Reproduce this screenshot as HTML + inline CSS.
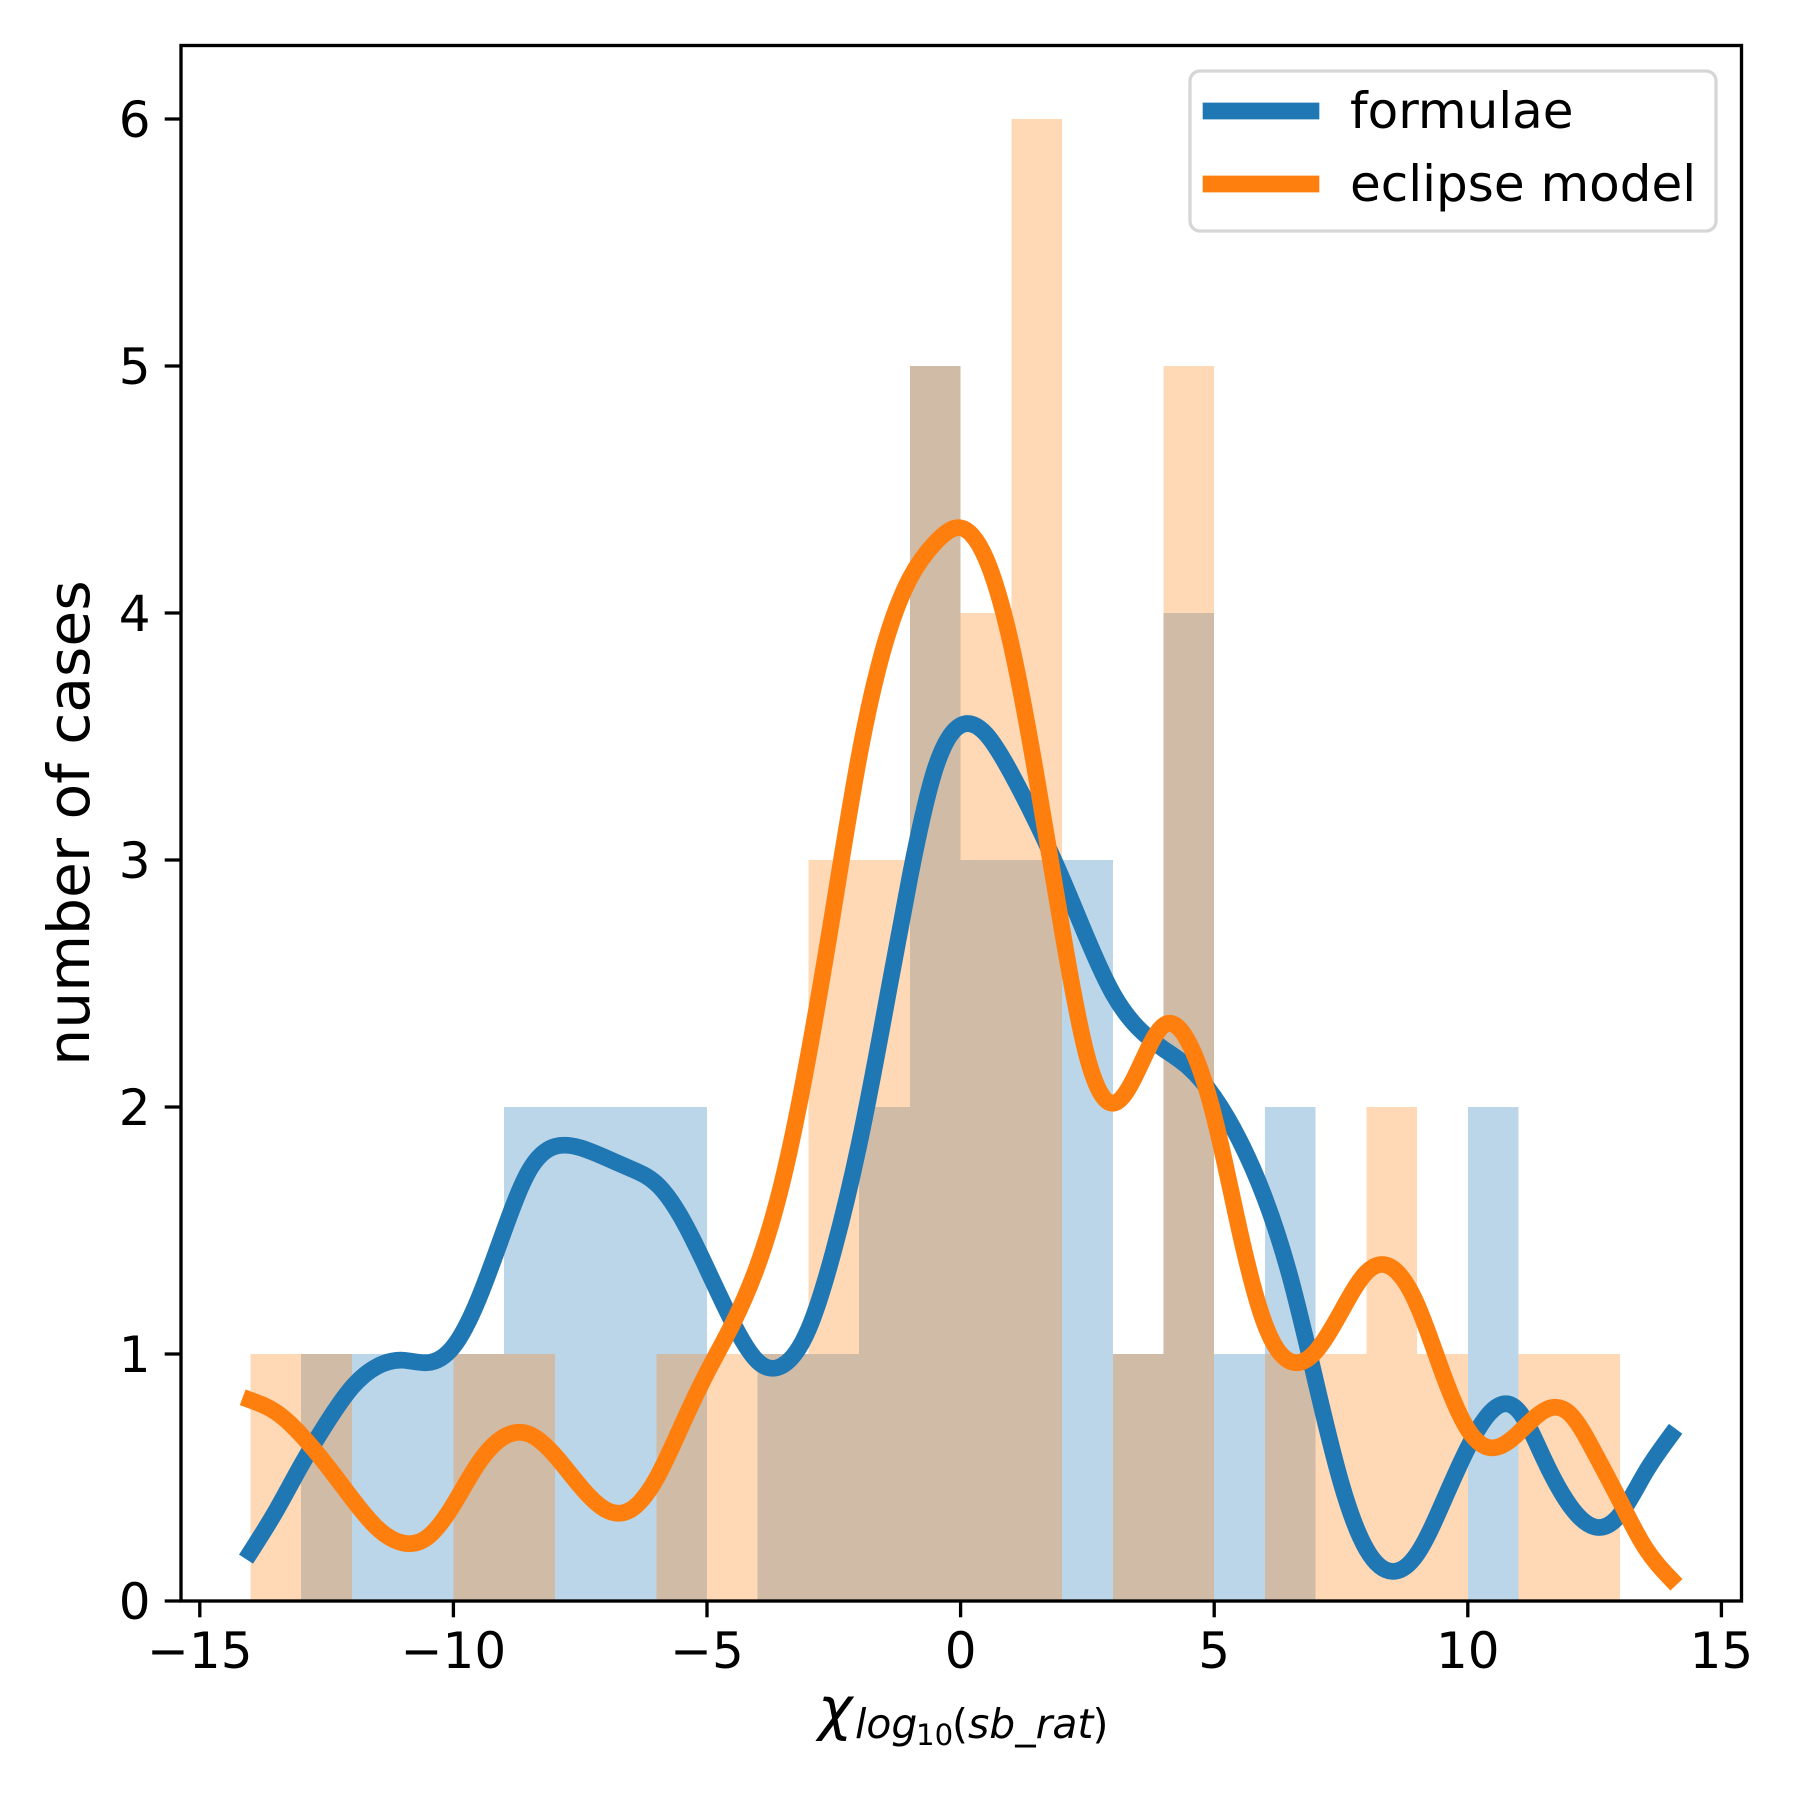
<!DOCTYPE html>
<html>
<head>
<meta charset="utf-8">
<title>Histogram and KDE</title>
<style>
html,body{margin:0;padding:0;background:#fff;}
svg{display:block;}
text{font-family:"DejaVu Sans","Liberation Sans",sans-serif;fill:#000;}
</style>
</head>
<body>
<svg id="chart" xmlns="http://www.w3.org/2000/svg" width="1800" height="1800" viewBox="0 0 1800 1800">
  <rect x="0" y="0" width="1800" height="1800" fill="#fff"/>
  <g id="bars"></g>
  <g id="lines"></g>
  <g id="ticks"></g>
  <rect x="181" y="45.5" width="1560.5" height="1555.5" fill="none" stroke="#000" stroke-width="3.33"/>
  <text transform="translate(89,823) rotate(-90)" text-anchor="middle" font-size="58.33">number of cases</text>
  <text>
    <tspan x="818" y="1729" font-size="58.33" font-style="italic">χ</tspan>
    <tspan x="855" y="1738" font-size="40.83" font-style="italic">log</tspan>
    <tspan x="916" y="1745" font-size="29.2">10</tspan>
    <tspan x="952" y="1738" font-size="40.83">(</tspan>
    <tspan x="968" y="1738" font-size="40.83" font-style="italic">sb_rat</tspan>
    <tspan x="1092.5" y="1738" font-size="40.83">)</tspan>
  </text>
  <g>
    <rect x="1190" y="71" width="526" height="160" rx="10" ry="10" fill="#fff" fill-opacity="0.8" stroke="#d6d6d6" stroke-width="3.33"/>
    <line x1="1211" y1="111" x2="1311" y2="111" stroke="#1f77b4" stroke-width="16.67" stroke-linecap="square"/>
    <text x="1350" y="128" font-size="50">formulae</text>
    <line x1="1211" y1="184" x2="1311" y2="184" stroke="#ff7f0e" stroke-width="16.67" stroke-linecap="square"/>
    <text x="1350" y="201" font-size="50">eclipse model</text>
  </g>
</svg>
<script>
const binStarts = [-14,-13,-12,-11,-10,-9,-8,-7,-6,-5,-4,-3,-2,-1,0,1,2,3,4,5,6,7,8,9,10,11,12];
const formulaeCounts = [0,1,1,1,1,2,2,2,2,0,1,1,2,5,3,3,3,1,4,1,2,0,0,0,2,0,0];
const eclipseCounts = [1,1,0,0,1,1,0,0,1,1,1,3,3,5,4,6,0,1,5,0,1,1,2,1,0,1,1];
const curveX = [-14,-13.5,-13,-12.5,-12,-11.5,-11,-10.5,-10,-9.5,-9,-8.5,-8,-7.5,-7,-6.5,-6,-5.5,-5,-4.5,-4,-3.5,-3,-2.5,-2,-1.5,-1,-0.5,0,0.5,1,1.5,2,2.5,3,3.5,4,4.5,5,5.5,6,6.5,7,7.5,8,8.5,9,9.5,10,10.5,11,11.5,12,12.5,13,13.5,14];
const formulaeY = [0.198,0.364,0.55,0.72,0.865,0.95,0.975,0.965,1.03,1.225,1.5,1.745,1.84,1.835,1.795,1.75,1.69,1.55,1.345,1.13,0.97,0.955,1.1,1.42,1.85,2.38,2.93,3.37,3.545,3.51,3.35,3.15,2.925,2.68,2.46,2.32,2.235,2.16,2.04,1.865,1.63,1.31,0.89,0.48,0.21,0.12,0.19,0.395,0.62,0.775,0.77,0.575,0.39,0.3,0.35,0.52,0.67];
const eclipseY = [0.813,0.765,0.672,0.55,0.415,0.295,0.235,0.26,0.39,0.56,0.665,0.675,0.59,0.465,0.37,0.37,0.495,0.71,0.925,1.12,1.36,1.71,2.21,2.81,3.42,3.87,4.14,4.285,4.345,4.22,3.87,3.33,2.72,2.2,2.015,2.15,2.33,2.26,1.96,1.5,1.12,0.97,1.01,1.17,1.33,1.35,1.2,0.925,0.695,0.62,0.68,0.77,0.76,0.6,0.405,0.215,0.09];
const xTickValues = [-15,-10,-5,0,5,10,15];
const xTickLabels = ["\u221215","\u221210","\u22125","0","5","10","15"];
const yTickValues = [0,1,2,3,4,5,6];
const yTickLabels = ["0","1","2","3","4","5","6"];

const NS = 'http://www.w3.org/2000/svg';
function sx(v){ return 960.6 + v * 50.72; }
function sy(v){ return 1601 - v * 247; }
function mk(tag, attrs, parent){
  const el = document.createElementNS(NS, tag);
  for (const k in attrs) el.setAttribute(k, attrs[k]);
  parent.appendChild(el);
  return el;
}
const barsG = document.getElementById('bars');
function drawBars(counts, color, label){
  counts.forEach(function(c, i){
    if (c <= 0) return;
    const r = mk('rect', {x: sx(binStarts[i]), y: sy(c), width: sx(binStarts[i] + 1) - sx(binStarts[i]), height: sy(0) - sy(c), fill: color, 'fill-opacity': 0.3, 'shape-rendering': 'crispEdges'}, barsG);
    
    
  });
}
drawBars(formulaeCounts, '#1f77b4', 'formulae');
drawBars(eclipseCounts, '#ff7f0e', 'eclipse-model');

/* natural cubic spline through the read values, emitted as Bezier segments */
function curvePath(xs, ys){
  const n = xs.length;
  const M = new Array(n).fill(0);
  const c = new Array(n).fill(0);
  const d = new Array(n).fill(0);
  for (let i = 1; i < n - 1; i++){
    const h0 = xs[i] - xs[i - 1], h1 = xs[i + 1] - xs[i];
    const b = 2 * (h0 + h1) - h0 * c[i - 1];
    c[i] = h1 / b;
    d[i] = (6 * ((ys[i + 1] - ys[i]) / h1 - (ys[i] - ys[i - 1]) / h0) - h0 * d[i - 1]) / b;
  }
  for (let i = n - 2; i > 0; i--) M[i] = d[i] - c[i] * M[i + 1];
  let p = 'M' + sx(xs[0]).toFixed(2) + ' ' + sy(ys[0]).toFixed(2);
  for (let i = 0; i < n - 1; i++){
    const h = xs[i + 1] - xs[i];
    const s = (ys[i + 1] - ys[i]) / h;
    const m0 = s - h * (2 * M[i] + M[i + 1]) / 6;
    const m1 = s + h * (M[i] + 2 * M[i + 1]) / 6;
    p += 'C' + sx(xs[i] + h / 3).toFixed(2) + ' ' + sy(ys[i] + m0 * h / 3).toFixed(2) + ' ' +
         sx(xs[i + 1] - h / 3).toFixed(2) + ' ' + sy(ys[i + 1] - m1 * h / 3).toFixed(2) + ' ' +
         sx(xs[i + 1]).toFixed(2) + ' ' + sy(ys[i + 1]).toFixed(2);
  }
  return p;
}
const linesG = document.getElementById('lines');
const lineFormulae = mk('path', {d: curvePath(curveX, formulaeY), fill: 'none', stroke: '#1f77b4', 'stroke-width': 16.67, 'stroke-linecap': 'square', 'stroke-linejoin': 'round'}, linesG);


const lineEclipse = mk('path', {d: curvePath(curveX, eclipseY), fill: 'none', stroke: '#ff7f0e', 'stroke-width': 16.67, 'stroke-linecap': 'square', 'stroke-linejoin': 'round'}, linesG);



const ticksG = document.getElementById('ticks');
xTickValues.forEach(function(v, i){
  const t = mk('line', {x1: sx(v), x2: sx(v), y1: 1601, y2: 1617.3, stroke: '#000', 'stroke-width': 3.33}, ticksG);
  
  
  const l = mk('text', {x: sx(v), y: 1668, 'text-anchor': 'middle', 'font-size': 50}, ticksG);
  
  
  l.textContent = xTickLabels[i];
});
yTickValues.forEach(function(v, i){
  const t = mk('line', {x1: 181, x2: 164.7, y1: sy(v), y2: sy(v), stroke: '#000', 'stroke-width': 3.33}, ticksG);
  
  
  const l = mk('text', {x: 150.5, y: sy(v) + 18, 'text-anchor': 'end', 'font-size': 50}, ticksG);
  
  
  l.textContent = yTickLabels[i];
});
</script>
</body>
</html>
